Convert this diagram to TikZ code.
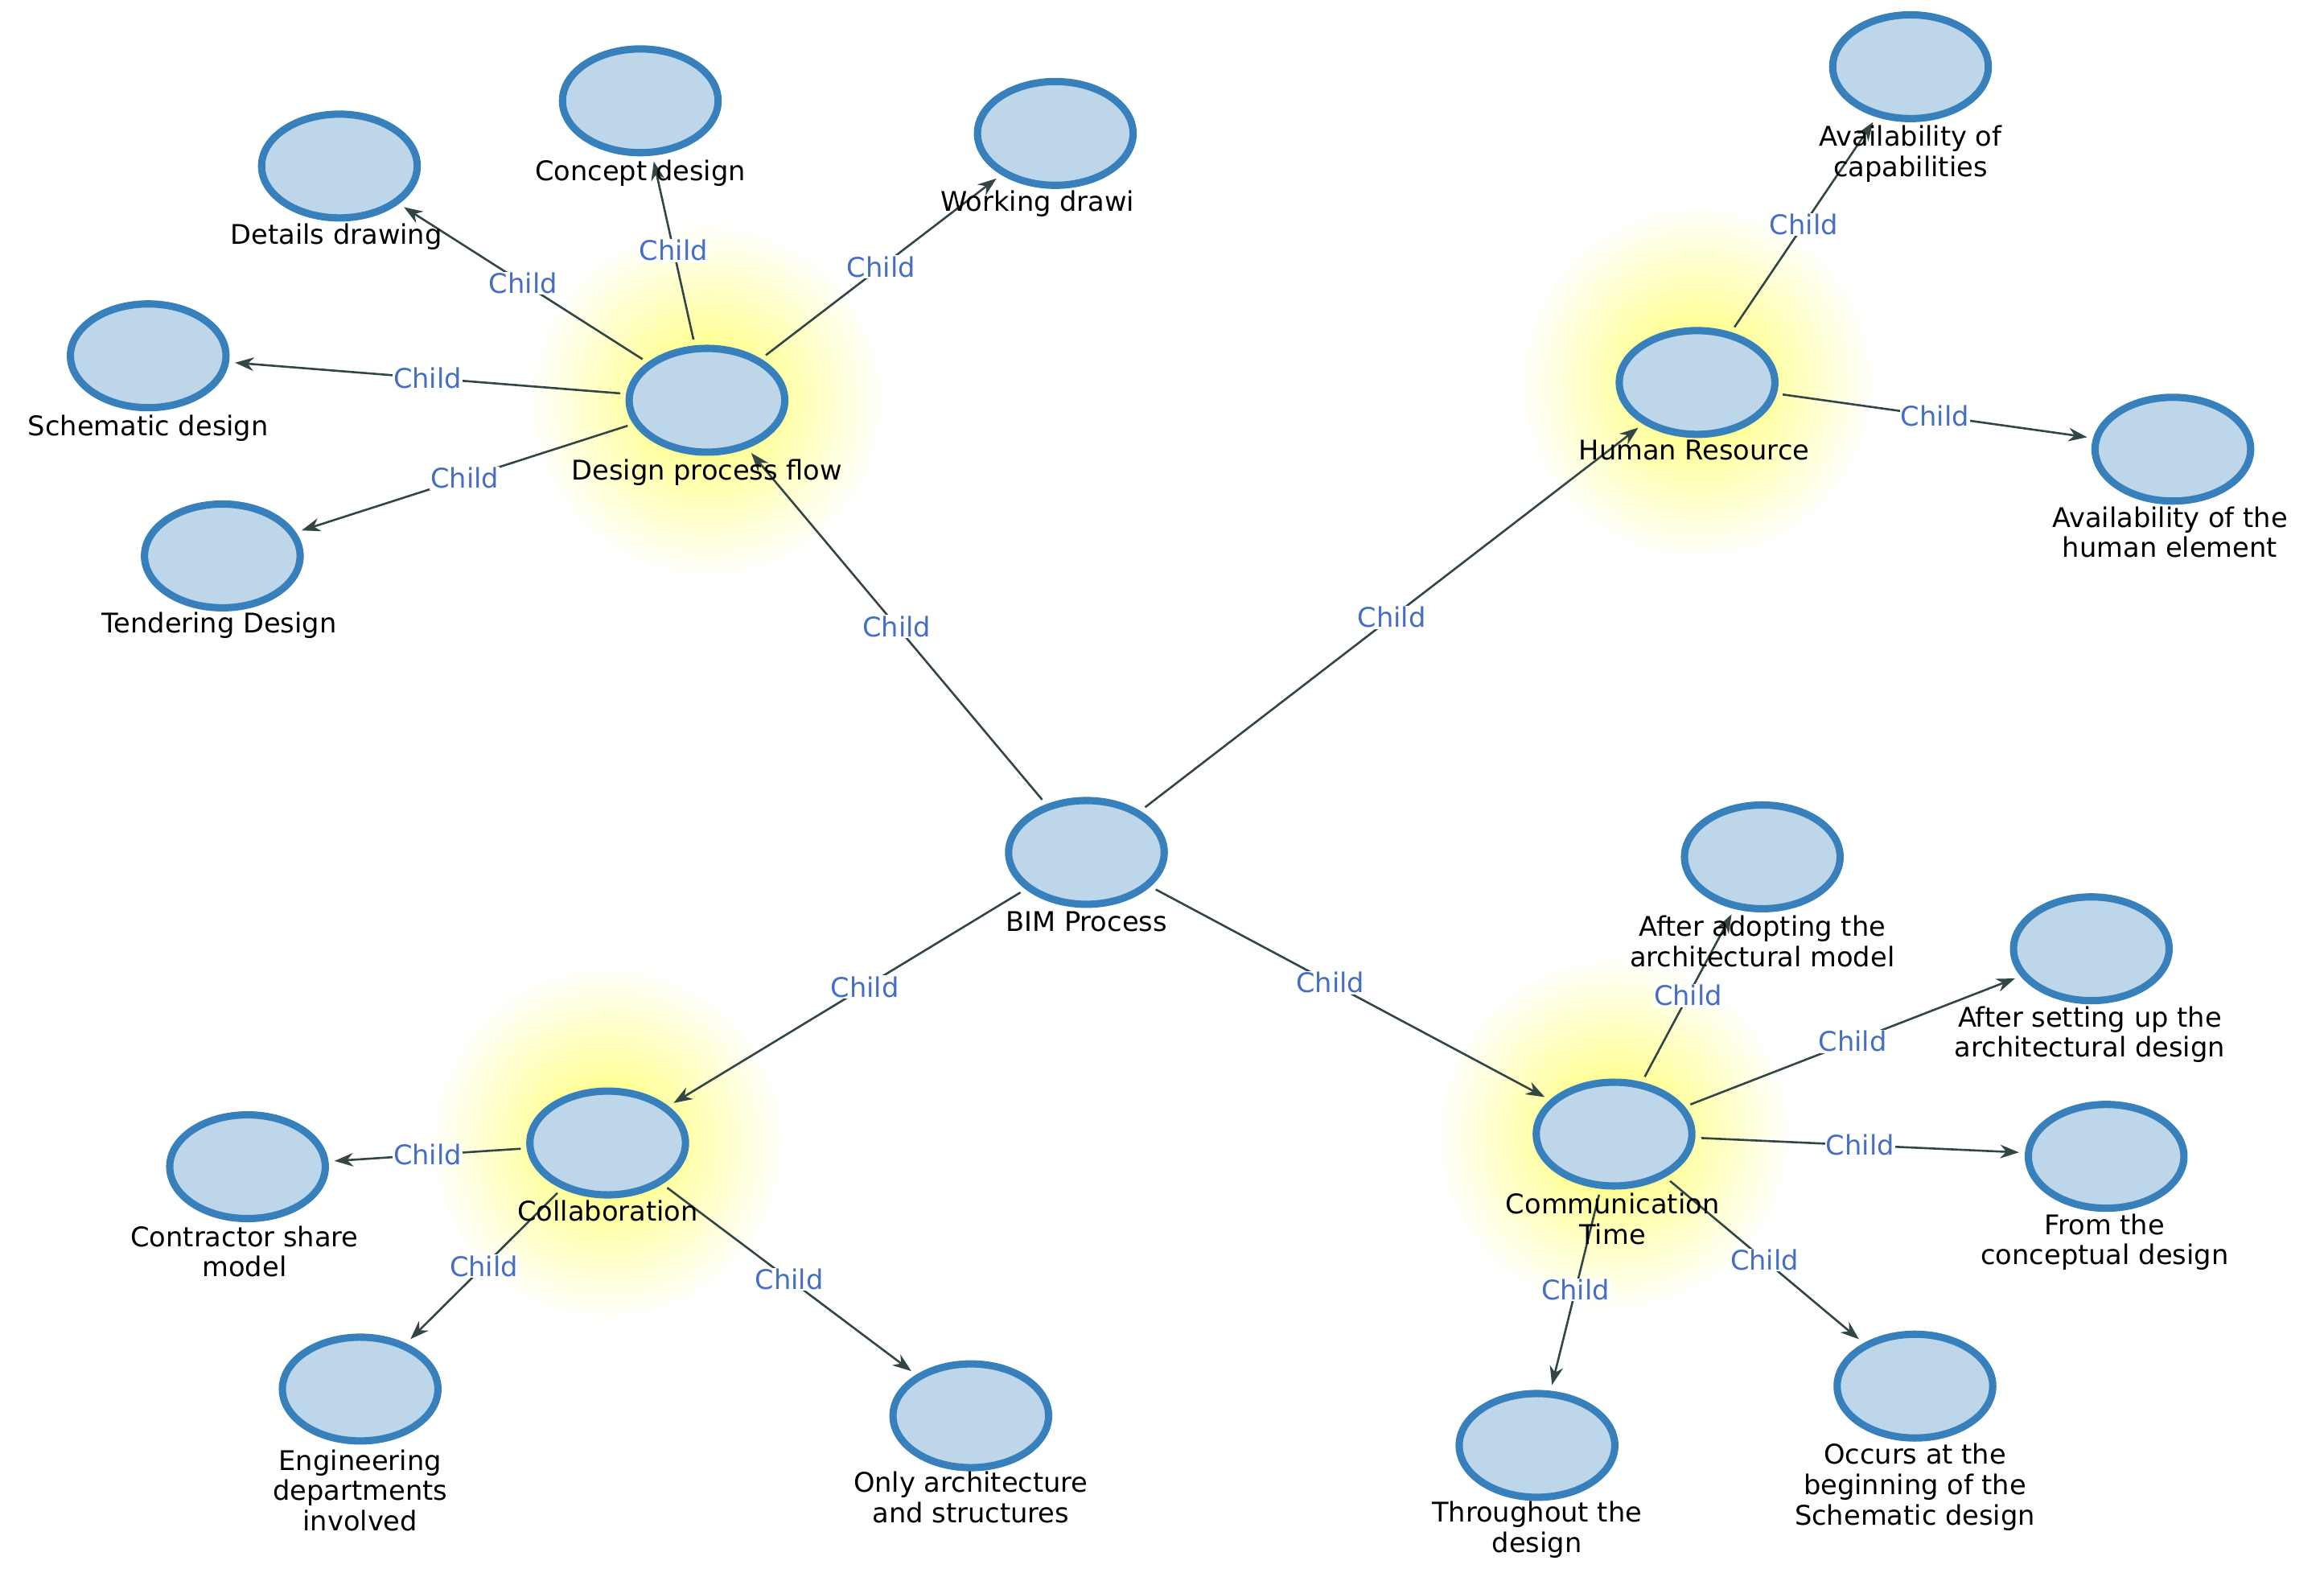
\documentclass[tikz,border=0pt]{standalone}
\usepackage{fontspec}
\setmainfont{DejaVu Sans}
\usetikzlibrary{arrows.meta}
\usetikzlibrary{shapes.geometric}
\definecolor{bubble}{RGB}{190,214,234}
\definecolor{rim}{RGB}{55,128,188}
\definecolor{edge}{RGB}{50,70,70}
\definecolor{childblue}{RGB}{70,110,195}
\tikzset{
  topic/.style = {ellipse, draw = rim, fill = bubble, line width = 7pt,
                  minimum width = 5.25cm, minimum height = 3.5cm},
  caption/.style = {align = center, font = \fontsize{26}{29}\selectfont, inner sep = 1pt},
  child/.style = {draw = edge, line width = 2pt, -{Stealth[length=18pt,width=13pt]},
                  shorten <= 2mm, shorten >= 2mm},
  tag/.style = {fill = white, text = childblue, inner sep = 1pt,
                font = \fontsize{26}{29}\selectfont},
  glow/.style = {inner color = yellow!60, outer color = white, draw = none}
}
\begin{document}
\begin{tikzpicture}[x = 0.05cm, y = -0.05cm]
\useasboundingbox (0, 0) rectangle (1568, 1061);
\shade[glow] (477, 270) circle (6cm);
\shade[glow] (1145, 258) circle (6cm);
\shade[glow] (410, 771) circle (6cm);
\shade[glow] (1089, 765) circle (6cm);
% centre
\node[topic] (bim) at (733, 575) {};
% design process flow
\node[topic] (dpf) at (477, 270) {};
\node[topic] (concept) at (432, 68) {};
\node[topic] (working) at (712, 90) {};
\node[topic] (details) at (229, 112) {};
\node[topic] (schematic) at (100, 240) {};
\node[topic] (tender) at (150, 375) {};
% human resource
\node[topic] (hr) at (1145, 258) {};
\node[topic] (capab) at (1289, 45) {};
\node[topic] (human) at (1466, 303) {};
% collaboration
\node[topic] (collab) at (410, 771) {};
\node[topic] (contract) at (167, 787) {};
\node[topic] (engin) at (243, 937) {};
\node[topic] (archi) at (655, 955) {};
% communication time
\node[topic] (comm) at (1089, 765) {};
\node[topic] (adopt) at (1189, 578) {};
\node[topic] (setup) at (1411, 640) {};
\node[topic] (concep) at (1421, 780) {};
\node[topic] (occurs) at (1292, 935) {};
\node[topic] (through) at (1037, 975) {};

\draw[child] (bim) to node[tag, pos = .5] {Child} (dpf);
\draw[child] (bim) to node[tag, pos = .5] {Child} (hr);
\draw[child] (bim) to node[tag, pos = .45] {Child} (collab);
\draw[child] (bim) to node[tag, pos = .45] {Child} (comm);
\draw[child] (dpf) to node[tag] {Child} (concept);
\draw[child] (dpf) to node[tag] {Child} (working);
\draw[child] (dpf) to node[tag] {Child} (details);
\draw[child] (dpf) to node[tag] {Child} (schematic);
\draw[child] (dpf) to node[tag] {Child} (tender);
\draw[child] (hr) to node[tag] {Child} (capab);
\draw[child] (hr) to node[tag] {Child} (human);
\draw[child] (collab) to node[tag] {Child} (contract);
\draw[child] (collab) to node[tag] {Child} (engin);
\draw[child] (collab) to node[tag] {Child} (archi);
\draw[child] (comm) to node[tag] {Child} (adopt);
\draw[child] (comm) to node[tag] {Child} (setup);
\draw[child] (comm) to node[tag] {Child} (concep);
\draw[child] (comm) to node[tag] {Child} (occurs);
\draw[child] (comm) to node[tag] {Child} (through);

\node[caption, anchor = north] (bimc) at (733, 614) {BIM Process};
\node[caption, anchor = north] (dpfc) at (477, 309) {Design process flow};
\node[caption, anchor = north] (conceptc) at (432, 107) {Concept design};
\node[caption, anchor = north] (workingc) at (700, 128) {Working drawi};
\node[caption, anchor = north] (detailsc) at (227, 150) {Details drawing};
\node[caption, anchor = north] (schematicc) at (100, 279) {Schematic design};
\node[caption, anchor = north] (tenderc) at (148, 412) {Tendering Design};
\node[caption, anchor = north] (hrc) at (1143, 296) {Human Resource};
\node[caption, anchor = north] (capabc) at (1289, 84) {Availability of\\capabilities};
\node[caption, anchor = north] (humanc) at (1464, 341) {Availability of the\\human element};
\node[caption, anchor = north] (collabc) at (410, 809) {Collaboration};
\node[caption, anchor = north] (contractc) at (165, 826) {Contractor share\\model};
\node[caption, anchor = north] (enginc) at (243, 977) {Engineering\\departments\\involved};
\node[caption, anchor = north] (archic) at (655, 992) {Only architecture\\and structures};
\node[caption, anchor = north] (commc) at (1088, 804) {Communication\\Time};
\node[caption, anchor = north] (adoptc) at (1189, 617) {After adopting the\\architectural model};
\node[caption, anchor = north] (setupc) at (1410, 678) {After setting up the\\architectural design};
\node[caption, anchor = north] (concepc) at (1420, 818) {From the\\conceptual design};
\node[caption, anchor = north] (occursc) at (1292, 973) {Occurs at the\\beginning of the\\Schematic design};
\node[caption, anchor = north] (throughc) at (1037, 1012) {Throughout the\\design};
\end{tikzpicture}
\end{document}
